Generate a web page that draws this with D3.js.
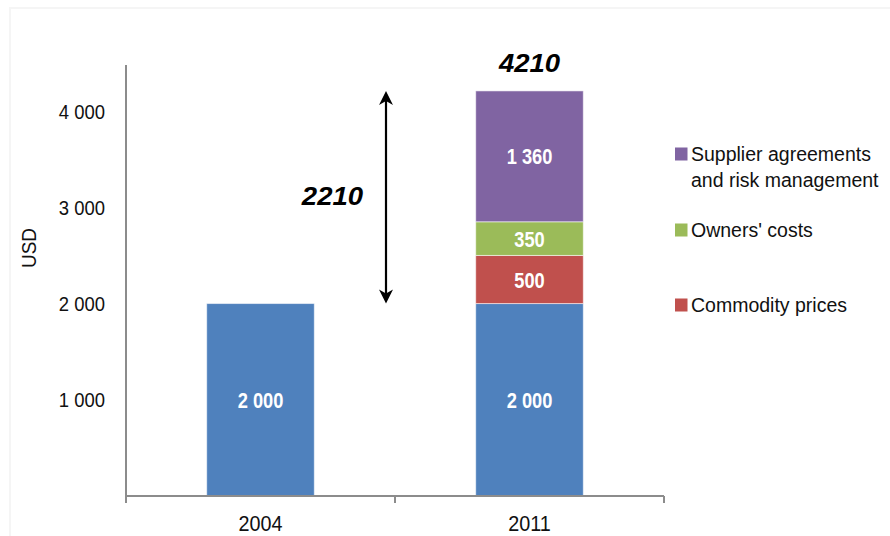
<!DOCTYPE html>
<html>
<head>
<meta charset="utf-8">
<script src="https://cdn.jsdelivr.net/npm/d3@7"></script>
<style>
  html, body { margin: 0; padding: 0; background: #fff; }
  svg { display: block; }
  text { font-family: "Liberation Sans", Arial, sans-serif; }
</style>
</head>
<body>
<div id="chart"></div>
<script>
// Cost build-up, 2004 vs 2011 (USD)
const years = ["2004", "2011"];
const baseCost = [2000, 2000];
const commodityPrices = [0, 500];
const ownersCosts = [0, 350];
const supplierAgreements = [0, 1360];
const yTicks = [1000, 2000, 3000, 4000];
const yMax = 4500;
const totalLabel = "4210";
const increaseLabel = "2210";

const seriesNames = ["Base", "Commodity prices", "Owners' costs", "Supplier agreements and risk management"];
const seriesValues = [baseCost, commodityPrices, ownersCosts, supplierAgreements];
const seriesColors = ["#4f81bd", "#c0504d", "#9bbb59", "#8064a2"];
const legendLines = {
  "Supplier agreements and risk management": ["Supplier agreements", "and risk management"],
  "Owners' costs": ["Owners' costs"],
  "Commodity prices": ["Commodity prices"]
};

const W = 890, H = 536;
const svg = d3.select("#chart").append("svg").attr("width", W).attr("height", H);

// faint outer frame
svg.append("path")
  .attr("d", "M10," + H + " V8 H" + W)
  .attr("fill", "none").attr("stroke", "#f5f5f5").attr("stroke-width", 2);

const x = d3.scaleBand().domain(years).range([126, 664]).padding(0);
const y = d3.scaleLinear().domain([0, yMax]).range([496, 63]);
const barW = x.bandwidth() * 0.4;

// stacked table
const rows = years.map((yr, i) => {
  const r = { year: yr };
  seriesNames.forEach((s, k) => r[s] = seriesValues[k][i]);
  return r;
});
const stack = d3.stack().keys(seriesNames)(rows);
const color = d3.scaleOrdinal().domain(seriesNames).range(seriesColors);

// text with horizontal compression, drawn at (px, py)
function sText(parent, px, py, str, opts) {
  const g = parent.append("g").attr("transform", `translate(${px},${py}) scale(${opts.sx || 1},1)`);
  return g.append("text")
    .attr("text-anchor", opts.anchor || "middle")
    .attr("font-size", opts.size)
    .attr("font-weight", opts.weight || "normal")
    .attr("font-style", opts.style || "normal")
    .attr("fill", opts.fill || "#111")
    .text(str);
}

// bars
const layers = svg.append("g").selectAll("g").data(stack).join("g")
  .attr("fill", d => color(d.key));
layers.selectAll("rect")
  .data(d => d.filter(p => p[1] - p[0] > 0))
  .join("rect")
  .attr("x", p => x(p.data.year) + (x.bandwidth() - barW) / 2)
  .attr("y", p => y(p[1]))
  .attr("width", barW)
  .attr("height", p => y(p[0]) - y(p[1]))
  .attr("stroke", "rgba(255,255,255,0.55)")
  .attr("stroke-width", 1);

// value labels inside segments
const fmt = v => d3.format(",")(v).replace(/,/g, " ");
stack.forEach(layer => {
  layer.forEach(p => {
    const v = p[1] - p[0];
    if (v <= 0) return;
    const cx = x(p.data.year) + x.bandwidth() / 2;
    const cy = y((p[0] + p[1]) / 2);
    sText(svg, cx, cy + 8, fmt(v), { size: 22, weight: "bold", fill: "#fff", sx: 0.83 });
  });
});

// axes
const yAxis = svg.append("g").attr("transform", "translate(126,0)")
  .call(d3.axisLeft(y).tickValues(yTicks).tickSize(0).tickPadding(21).tickFormat(""));
yAxis.select(".domain").remove();
yTicks.forEach(t => sText(svg, 105, y(t) + 7.5, fmt(t), { size: 21, anchor: "end", sx: 0.88 }));

svg.append("line").attr("x1", 126).attr("x2", 126).attr("y1", y(yMax) + 2).attr("y2", 503)
  .attr("stroke", "#8c8c8c").attr("stroke-width", 2);
svg.append("line").attr("x1", 126).attr("x2", 664).attr("y1", 496).attr("y2", 496)
  .attr("stroke", "#8c8c8c").attr("stroke-width", 2);
const bounds = [x(years[0])].concat(years.map(c => x(c) + x.bandwidth()));
svg.selectAll(".xtick").data(bounds).join("line").attr("class", "xtick")
  .attr("x1", d => d).attr("x2", d => d).attr("y1", 496).attr("y2", 503)
  .attr("stroke", "#8c8c8c").attr("stroke-width", 2);
const xAxis = svg.append("g").attr("transform", "translate(0,496)")
  .call(d3.axisBottom(x).tickSize(0).tickFormat(""));
xAxis.select(".domain").remove();
years.forEach(c => sText(svg, x(c) + x.bandwidth() / 2, 531, c, { size: 22, sx: 0.9 }));

// y-axis title
svg.append("g").attr("transform", "translate(36,248) rotate(-90) scale(0.9,1)")
  .append("text").attr("text-anchor", "middle").attr("font-size", 21).attr("fill", "#111").text("USD");

// total above 2011 bar
const last = years.length - 1;
const total = d3.sum(seriesValues, s => s[last]);
sText(svg, x(years[last]) + x.bandwidth() / 2, y(total) - 19, totalLabel,
  { size: 25, weight: "bold", style: "italic", fill: "#000", sx: 1.1 });

// increase arrow 2004 -> 2011
const ax = 386;
const yLow = y(baseCost[0]), yHigh = y(total);
svg.append("line").attr("x1", ax).attr("x2", ax).attr("y1", yHigh + 6).attr("y2", yLow - 6)
  .attr("stroke", "#000").attr("stroke-width", 2.2);
svg.append("path").attr("d", `M${ax},${yHigh} L${ax - 7},${yHigh + 14} L${ax},${yHigh + 10} L${ax + 7},${yHigh + 14} Z`)
  .attr("fill", "#000");
svg.append("path").attr("d", `M${ax},${yLow} L${ax - 7},${yLow - 14} L${ax},${yLow - 10} L${ax + 7},${yLow - 14} Z`)
  .attr("fill", "#000");
sText(svg, 363, (yLow + yHigh) / 2 + 8, increaseLabel,
  { size: 25, weight: "bold", style: "italic", fill: "#000", anchor: "end", sx: 1.1 });

// legend
const legendItems = [
  { key: seriesNames[3], cy: 154 },
  { key: seriesNames[2], cy: 230 },
  { key: seriesNames[1], cy: 305 }
];
legendItems.forEach(it => {
  svg.append("rect").attr("x", 675).attr("y", it.cy - 6.5).attr("width", 12.5).attr("height", 13)
    .attr("fill", color(it.key));
  legendLines[it.key].forEach((ln, j) => {
    svg.append("text").attr("x", 691).attr("y", it.cy + 7 + j * 26)
      .attr("font-size", 19.5).attr("fill", "#111").text(ln);
  });
});
</script>
</body>
</html>
